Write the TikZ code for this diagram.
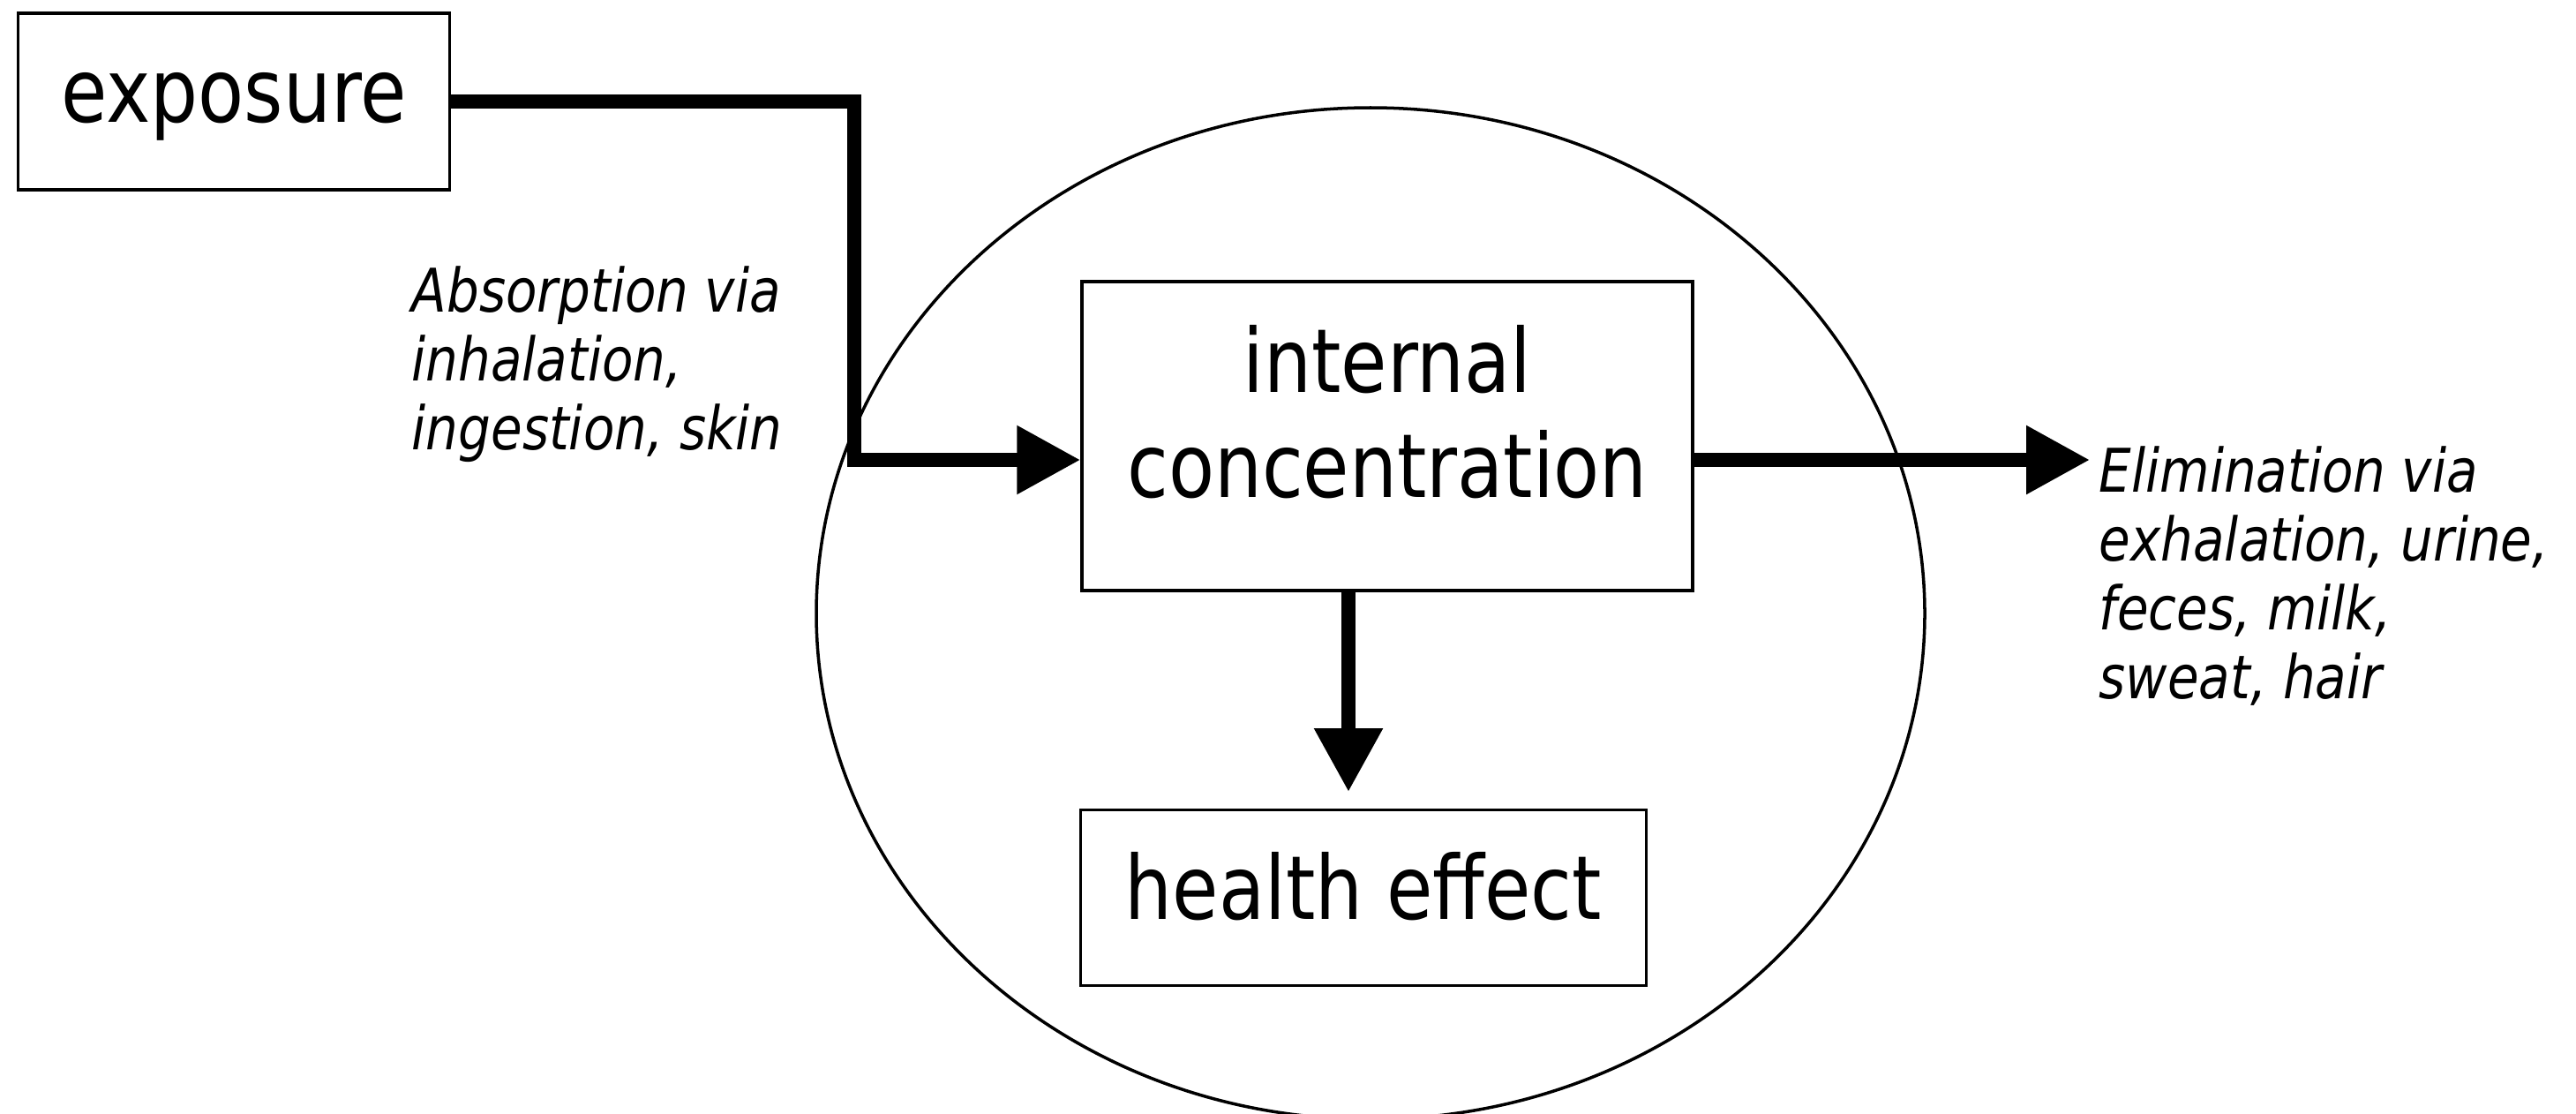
\documentclass[tikz,border=0pt]{standalone}
\usepackage{fontspec}
\setmainfont{DejaVu Sans}[FakeStretch=0.85]
\usetikzlibrary{arrows.meta,positioning,calc}

\tikzset{
  box/.style={draw, line width=1pt, inner sep=0pt, font=\fontsize{28.5}{34}\selectfont},
  flow/.style={line width=4.4pt, -{Triangle[length=0.72cm,width=0.74cm]}},
  note/.style={inner sep=0pt, align=left, anchor=north west,
    font=\fontsize{19.4}{22.2}\selectfont\itshape},
}

\begin{document}
\begin{tikzpicture}
  \useasboundingbox (0,0) rectangle (29.19,-12.61);

  % the body
  \draw[line width=1pt] (15.53,-6.95) ellipse (6.28 and 5.73);

  \node[box, minimum width=4.89cm, minimum height=2.00cm, text height=0.68cm] (exposure) at (2.65,-1.15) {exposure};
  \node[box, minimum width=6.92cm, minimum height=3.50cm, align=center] (conc) at (15.72,-4.94)
    {internal\\concentration\rule[-0.56cm]{0pt}{0.56cm}};
  \node[box, minimum width=6.41cm, minimum height=1.99cm, text depth=0.28cm] (health) at (15.45,-10.17) {health effect};

  \coordinate (in)   at (9.68,-5.21);
  \coordinate (out)  at (23.68,-5.21);
  \coordinate (down) at (15.28,-8.97);

  \draw[flow] (exposure.east) -| (in) -- (in -| conc.west);
  \draw[flow] (conc.east |- out) -- (out);
  \draw[flow] (conc.south -| down) -- (down);

  \node[note] (absorb) at (4.66,-3.01) {Absorption via\\inhalation,\\ingestion, skin};
  \node[note] (elim)   at (23.78,-5.05) {Elimination via\\exhalation, urine,\\feces, milk,\\sweat, hair};
\end{tikzpicture}
\end{document}
